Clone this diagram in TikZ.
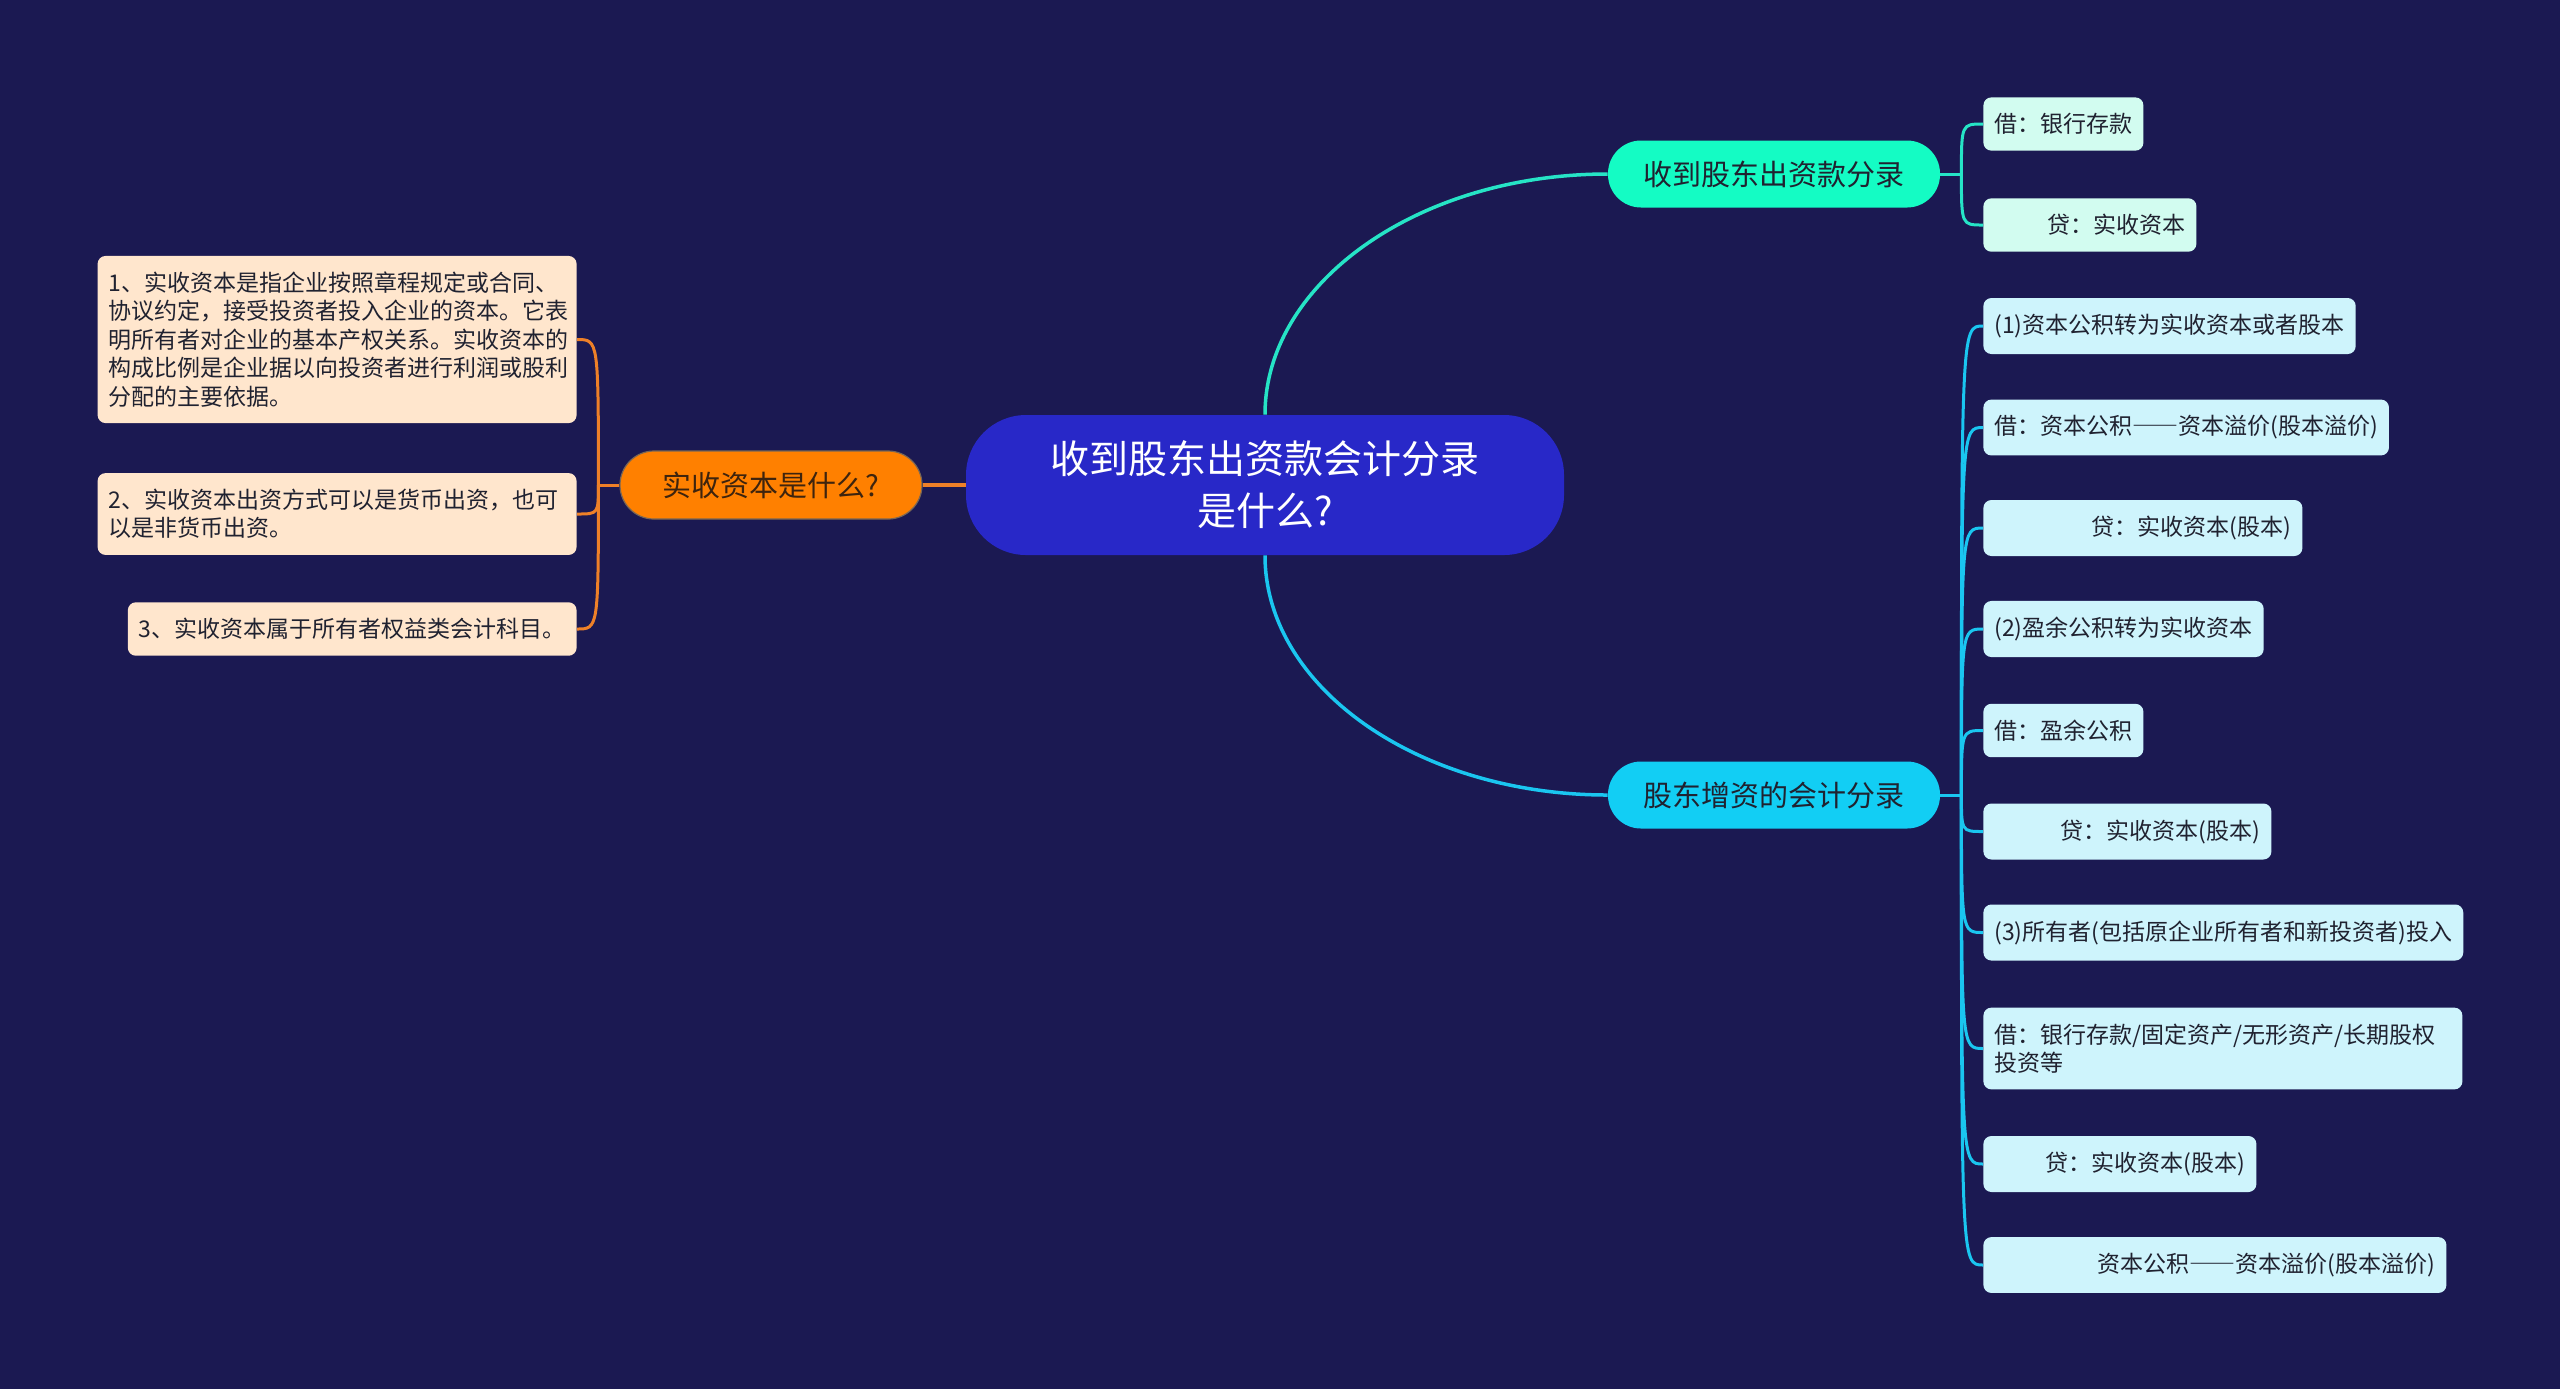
\documentclass[tikz,border=0pt]{standalone}
\usepackage{fontspec}
\setmainfont{Noto Sans CJK SC}
\usetikzlibrary{calc}

\definecolor{bgnavy}{RGB}{27,25,82}
\definecolor{rootblue}{RGB}{40,40,200}
\definecolor{aquaA}{RGB}{20,252,196}
\definecolor{aquaLine}{RGB}{38,228,198}
\definecolor{aquaLeaf}{RGB}{210,252,240}
\definecolor{cyanB}{RGB}{18,206,244}
\definecolor{cyanLine}{RGB}{26,198,240}
\definecolor{cyanLeaf}{RGB}{206,244,252}
\definecolor{orangeC}{RGB}{255,128,0}
\definecolor{orangeLine}{RGB}{238,128,40}
\definecolor{peachLeaf}{RGB}{255,230,205}
\definecolor{inkDark}{RGB}{32,34,48}
\definecolor{inkBrown}{RGB}{62,36,14}

\newcommand{\fwdash}{{\addfontfeature{CharacterWidth=Full}——}}

\begin{document}
\begin{tikzpicture}[x=0.5pt, y=-0.5pt,
  root/.style={fill=rootblue, text=white, align=center, rounded corners=30pt,
    minimum width=299pt, minimum height=70pt, font=\fontsize{19.5}{26}\selectfont},
  branch/.style={rounded corners=16.5pt, minimum width=166pt, minimum height=33.5pt,
    text=inkDark, font=\fontsize{14.5}{17}\selectfont},
  leaf/.style={rounded corners=4pt, inner xsep=5.5pt, inner ysep=8pt, minimum height=25.5pt,
    text=inkDark, font=\fontsize{11.5}{14.2}\selectfont},
  leafR/.style={leaf, text width=#1, align=right},
  leafW/.style={leaf, text width=#1, align=left},
  lnA/.style={aquaLine, line width=1.75pt},
  lnB/.style={cyanLine, line width=1.75pt},
  lnO/.style={orangeLine, line width=1.75pt},
  twig/.style={line width=1.5pt}
]

\fill[bgnavy] (0,0) rectangle (2560,1389);
\useasboundingbox (0,0) rectangle (2560,1389);

\node[root] (root) at (1265,485) {收到股东出资款会计分录\\是什么?};
\node[branch, fill=aquaA] (rcv) at (1774,174) {收到股东出资款分录};
\node[branch, fill=cyanB] (inc) at (1774,795) {股东增资的会计分录};
\node[branch, fill=orangeC, draw=inkBrown!70, line width=0.6pt, minimum width=151pt,
  minimum height=34pt, rounded corners=17pt, text=inkBrown] (what) at (771,485) {实收资本是什么?};

\coordinate (rcvHub) at ($(rcv.east)+(21,0)$);
\coordinate (incHub) at ($(inc.east)+(21,0)$);
\coordinate (whatHub) at ($(what.west)+(-21,0)$);

\node[leaf, fill=aquaLeaf, anchor=west] (r1) at (1983,124) {借：银行存款};
\node[leafR=95.5pt, fill=aquaLeaf, anchor=west] (r2) at (1983,225) {贷：实收资本};

\node[leaf, fill=cyanLeaf, anchor=west] (i1) at (1983,326) {(1)资本公积转为实收资本或者股本};
\node[leaf, fill=cyanLeaf, anchor=west] (i2) at (1983,427.5) {借：资本公积\fwdash 资本溢价(股本溢价)};
\node[leafR=148.5pt, fill=cyanLeaf, anchor=west] (i3) at (1983,528) {贷：实收资本(股本)};
\node[leaf, fill=cyanLeaf, anchor=west] (i4) at (1983,629) {(2)盈余公积转为实收资本};
\node[leaf, fill=cyanLeaf, anchor=west] (i5) at (1983,730.5) {借：盈余公积};
\node[leafR=133pt, fill=cyanLeaf, anchor=west] (i6) at (1983,831.5) {贷：实收资本(股本)};
\node[leaf, fill=cyanLeaf, anchor=west] (i7) at (1983,932.5) {(3)所有者(包括原企业所有者和新投资者)投入};
\node[leafW=228.5pt, fill=cyanLeaf, anchor=west] (i8) at (1983,1048.5) {借：银行存款/固定资产/无形资产/长期股权\\投资等};
\node[leafR=125.5pt, fill=cyanLeaf, anchor=west] (i9) at (1983,1164) {贷：实收资本(股本)};
\node[leafR=220.5pt, fill=cyanLeaf, anchor=west] (i10) at (1983,1265) {资本公积\fwdash 资本溢价(股本溢价)};

\node[leafW=228.5pt, fill=peachLeaf, anchor=east] (w1) at (577,339.5)
  {1、实收资本是指企业按照章程规定或合同、\\协议约定，接受投资者投入企业的资本。它表\\明所有者对企业的基本产权关系。实收资本的\\构成比例是企业据以向投资者进行利润或股利\\分配的主要依据。};
\node[leafW=228.5pt, fill=peachLeaf, anchor=east] (w2) at (577,514)
  {2、实收资本出资方式可以是货币出资，也可\\以是非货币出资。};
\node[leaf, fill=peachLeaf, anchor=east] (w3) at (577,629) {3、实收资本属于所有者权益类会计科目。};

\draw[lnA] (root.north) .. controls ($(root.north)+(0,-132)$) and ($(rcv.west)+(-189,0)$) .. (rcv.west);
\draw[lnB] (root.south) .. controls ($(root.south)+(0,132)$) and ($(inc.west)+(-189,0)$) .. (inc.west);
\draw[lnO] (root.west) -- (what.east);

\draw[lnA, twig] (rcv.east) -- (rcvHub);
\draw[lnA, twig] (rcvHub) .. controls (rcvHub |- r1.west) .. (r1.west);
\draw[lnA, twig] (rcvHub) .. controls (rcvHub |- r2.west) .. (r2.west);

\draw[lnB, twig] (inc.east) -- (incHub);
\draw[lnB, twig] (incHub) .. controls (incHub |- i1.west) .. (i1.west);
\draw[lnB, twig] (incHub) .. controls (incHub |- i2.west) .. (i2.west);
\draw[lnB, twig] (incHub) .. controls (incHub |- i3.west) .. (i3.west);
\draw[lnB, twig] (incHub) .. controls (incHub |- i4.west) .. (i4.west);
\draw[lnB, twig] (incHub) .. controls (incHub |- i5.west) .. (i5.west);
\draw[lnB, twig] (incHub) .. controls (incHub |- i6.west) .. (i6.west);
\draw[lnB, twig] (incHub) .. controls (incHub |- i7.west) .. (i7.west);
\draw[lnB, twig] (incHub) .. controls (incHub |- i8.west) .. (i8.west);
\draw[lnB, twig] (incHub) .. controls (incHub |- i9.west) .. (i9.west);
\draw[lnB, twig] (incHub) .. controls (incHub |- i10.west) .. (i10.west);

\draw[lnO, twig] (what.west) -- (whatHub);
\draw[lnO, twig] (whatHub) .. controls (whatHub |- w1.east) .. (w1.east);
\draw[lnO, twig] (whatHub) .. controls (whatHub |- w2.east) .. (w2.east);
\draw[lnO, twig] (whatHub) .. controls (whatHub |- w3.east) .. (w3.east);

\end{tikzpicture}
\end{document}
